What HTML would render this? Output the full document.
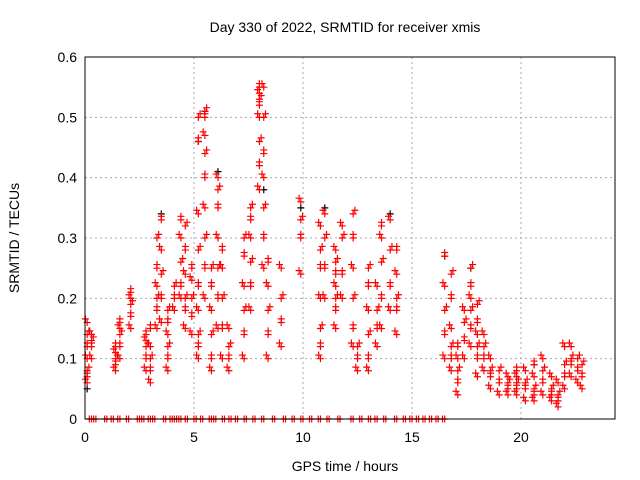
<!DOCTYPE html>
<html><head><meta charset="utf-8">
<style>
body{margin:0;background:#fff;}
svg{display:block;font-family:"Liberation Sans",sans-serif;}
</style></head>
<body>
<svg id="chart" width="640" height="480">
<text x="345" y="32" text-anchor="middle" font-size="14">Day 330 of 2022, SRMTID for receiver xmis</text>
<text x="345" y="471" text-anchor="middle" font-size="14">GPS time / hours</text>
<text transform="translate(19,238) rotate(-90)" text-anchor="middle" font-size="14">SRMTID / TECUs</text>
<g id="grid"></g><g id="ticks"></g><g id="marks"></g>
<rect x="85" y="57" width="530" height="362" fill="none" stroke="#000"/>
</svg>
<script>
const xTicks=[0,5,10,15,20];
const yTicks=[0,0.1,0.2,0.3,0.4,0.5,0.6];
const yTickLabels=["0","0.1","0.2","0.3","0.4","0.5","0.6"];
const colTimes=[0.1,0.3,1.4,1.6,2.1,2.8,3.0,3.3,3.5,3.8,4.1,4.4,4.6,4.9,5.2,5.5,5.8,6.1,6.3,6.6,7.3,7.6,8.0,8.2,8.4,9.0,9.9,10.8,11.0,11.5,11.8,12.3,12.5,13.0,13.4,13.6,14.0,14.3,16.5,16.8,17.1,17.4,17.7,18.0,18.3,18.6,19.0,19.4,19.8,20.2,20.6,21.0,21.4,21.7,22.0,22.3,22.6,22.8];
const colValues=[
[0.06,0.07,0.08,0.1,0.12,0.14,0.16],[0.1,0.12,0.13,0.14],[0.08,0.09,0.1,0.11,0.12],[0.1,0.12,0.14,0.15,0.16],[0.15,0.17,0.19,0.2,0.21],
[0.08,0.1,0.12,0.13,0.14],[0.06,0.08,0.1,0.12,0.15],[0.15,0.18,0.2,0.22,0.25,0.3],[0.16,0.2,0.24,0.28,0.33],[0.08,0.1,0.12,0.14,0.16,0.18],
[0.18,0.2,0.22],[0.2,0.22,0.26,0.3,0.33],[0.15,0.18,0.2,0.24,0.28,0.32],[0.14,0.17,0.2,0.23,0.25],[0.1,0.12,0.14,0.18,0.22,0.28,0.34,0.46,0.5],
[0.2,0.25,0.3,0.35,0.4,0.44,0.47,0.5,0.51],[0.08,0.1,0.14,0.18,0.22,0.25],[0.15,0.2,0.25,0.3,0.35,0.38,0.4],[0.1,0.15,0.2,0.25,0.28],[0.08,0.1,0.12,0.15],
[0.1,0.14,0.18,0.22,0.27,0.3],[0.18,0.22,0.26,0.3,0.33,0.35],[0.38,0.42,0.46,0.5,0.52,0.53,0.54,0.55],[0.25,0.3,0.35,0.4,0.44,0.5,0.55],[0.1,0.14,0.18,0.22,0.26],
[0.12,0.16,0.2,0.25],[0.24,0.3,0.33,0.36],[0.1,0.12,0.15,0.2,0.25,0.28,0.32],[0.2,0.25,0.3,0.34],[0.15,0.18,0.2,0.22,0.24,0.26,0.28],
[0.2,0.24,0.3,0.32],[0.12,0.15,0.2,0.25,0.3,0.34],[0.08,0.1,0.12],[0.08,0.1,0.14,0.18,0.22,0.25],[0.12,0.15,0.18,0.22],
[0.15,0.2,0.26,0.3,0.32],[0.18,0.22,0.28,0.33],[0.14,0.18,0.2,0.24,0.28],[0.1,0.14,0.18,0.22,0.27],[0.08,0.1,0.12,0.15,0.2,0.24],
[0.04,0.06,0.08,0.1,0.12],[0.1,0.13,0.16,0.18],[0.12,0.15,0.18,0.2,0.22,0.25],[0.07,0.1,0.12,0.14,0.16,0.19],[0.08,0.1,0.12,0.14],
[0.05,0.07,0.08,0.1],[0.04,0.06,0.08],[0.04,0.05,0.06,0.07],[0.04,0.05,0.06,0.07,0.08],[0.03,0.05,0.06,0.08],
[0.03,0.04,0.05,0.07,0.09],[0.04,0.06,0.08,0.1],[0.03,0.04,0.05,0.07],[0.02,0.03,0.04,0.06],[0.05,0.07,0.09,0.12],
[0.07,0.09,0.1,0.12],[0.06,0.08,0.1],[0.05,0.07,0.09]];
const zeroTimes=[0.2,0.4,0.9,1.2,1.5,1.9,2.4,2.6,2.9,3.1,3.6,3.9,4.1,4.3,4.6,5.0,5.3,5.7,5.9,6.3,6.6,6.9,7.3,7.7,8.1,8.6,9.1,9.5,9.9,10.3,10.7,11.1,11.6,12.2,12.6,13.0,13.3,13.7,14.2,14.6,14.9,15.2,15.5,15.8,16.1,16.4];
const blackTimes=[0.1,3.5,5.2,5.5,6.1,8.2,9.9,11.0,14.0,16.5,17.7,20.6];
const blackValues=[0.05,0.34,0.46,0.51,0.41,0.38,0.35,0.35,0.34,0.27,0.25,0.09];

const X=t=>85+t*21.8, Y=v=>419-v*603.3;
const NS="http://www.w3.org/2000/svg";
const grid=document.getElementById('grid'),ticks=document.getElementById('ticks'),marks=document.getElementById('marks');
function mk(tag,attrs,parent){const e=document.createElementNS(NS,tag);for(const k in attrs)e.setAttribute(k,attrs[k]);parent.appendChild(e);return e;}
xTicks.forEach(t=>{
  if(t>0){const g=mk('line',{x1:X(t),x2:X(t),y1:57,y2:419,stroke:'#aaa','stroke-dasharray':'2,3'},grid);
  
  }
  const l=mk('text',{x:X(t),y:442,'text-anchor':'middle','font-size':14},ticks);l.textContent=t;
  
  
});
yTicks.forEach((v,i)=>{
  if(v>0){const g=mk('line',{x1:85,x2:615,y1:Y(v),y2:Y(v),stroke:'#aaa','stroke-dasharray':'2,3'},grid);
  
  }
  const l=mk('text',{x:77,y:Y(v)+5,'text-anchor':'end','font-size':14},ticks);l.textContent=yTickLabels[i];
  
  
});
function plus(t,v,c){
  const x=X(t),y=Y(v);
  const p=mk('path',{d:`M${x-3.5},${y}H${x+3.5}M${x},${y-3.5}V${y+3.5}`,stroke:c,'stroke-width':1.2},marks);
  
  
}
blackTimes.forEach((t,i)=>plus(t,blackValues[i],'#000'));
colTimes.forEach((t,i)=>colValues[i].forEach((v,j)=>{plus(t,v,'#f00');plus(t+0.08*((j%3)-1),v+0.006,'#f00');}));
zeroTimes.forEach(t=>{plus(t,0,'#f00');plus(t+0.1,0,'#f00');});
</script>
</body></html>
